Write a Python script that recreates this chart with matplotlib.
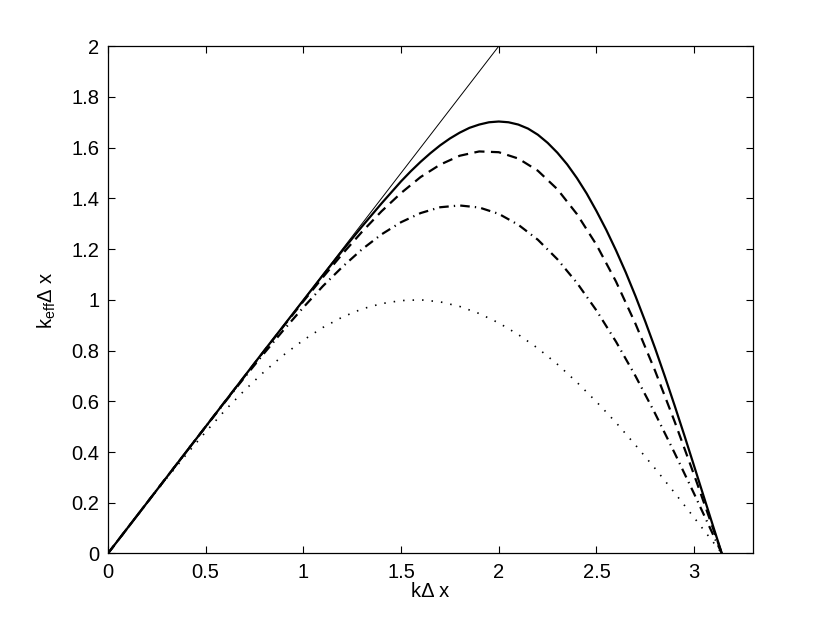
#!/usr/bin/python3
# -*- coding: utf-8 -*-

'''
Modified wavenumber of finite difference schemes
'''

import matplotlib
matplotlib.use('Agg')
import matplotlib.pyplot as plt
from matplotlib.ticker import FormatStrFormatter

# k*dx samples (last point is pi)
kdx = [0.0, 0.1, 0.2, 0.3, 0.4, 0.5, 0.6, 0.7, 0.8, 0.9, 1.0,
       1.1, 1.2, 1.3, 1.4, 1.5, 1.6, 1.7, 1.8, 1.9, 2.0,
       2.1, 2.2, 2.3, 2.4, 2.5, 2.6, 2.7, 2.8, 2.9, 3.0,
       3.1, 3.1416]

# finer samples for the solid curve
kdx_solid = [0.0, 0.1, 0.2, 0.3, 0.4, 0.5, 0.6, 0.7, 0.8, 0.9, 1.0,
             1.1, 1.2, 1.3, 1.4, 1.5, 1.55, 1.6, 1.65, 1.7, 1.75,
             1.8, 1.85, 1.9, 1.95, 2.0, 2.05, 2.1, 2.15, 2.2, 2.25,
             2.3, 2.35, 2.4, 2.45, 2.5, 2.55, 2.6, 2.65, 2.7, 2.75,
             2.8, 2.85, 2.9, 2.95, 3.0, 3.05, 3.1, 3.1416]

# exact relation k_eff = k
exact_x = [0.0, 2.0]
exact_y = [0.0, 2.0]

# solid curve
keff_solid = [0.000, 0.100, 0.200, 0.300, 0.400, 0.500, 0.600, 0.700, 0.800,
              0.899, 0.998, 1.097, 1.194, 1.289, 1.380, 1.467, 1.507, 1.544,
              1.578, 1.609, 1.636, 1.659, 1.678, 1.691, 1.700, 1.703, 1.700,
              1.691, 1.675, 1.651, 1.619, 1.580, 1.534, 1.480, 1.419, 1.350,
              1.276, 1.195, 1.108, 1.014, 0.914, 0.809, 0.698, 0.583, 0.465,
              0.344, 0.222, 0.100, 0.000]

# dashed curve
keff_dashed = [0.000, 0.100, 0.200, 0.300, 0.400, 0.500, 0.600, 0.699, 0.799,
               0.897, 0.994, 1.089, 1.181, 1.268, 1.349, 1.421, 1.484, 1.533,
               1.568, 1.585, 1.582, 1.557, 1.509, 1.436, 1.338, 1.217, 1.072,
               0.905, 0.720, 0.520, 0.309, 0.091, 0.000]

# dash-dot curve
keff_dashdot = [0.000, 0.100, 0.200, 0.300, 0.400, 0.499, 0.598, 0.695, 0.790,
                0.882, 0.970, 1.054, 1.130, 1.199, 1.258, 1.306, 1.342, 1.365,
                1.372, 1.364, 1.339, 1.296, 1.237, 1.160, 1.067, 0.958, 0.835,
                0.699, 0.552, 0.396, 0.235, 0.069, 0.000]

# dotted curve
keff_dotted = [0.000, 0.100, 0.199, 0.296, 0.389, 0.479, 0.565, 0.644, 0.717,
               0.783, 0.841, 0.891, 0.932, 0.964, 0.985, 0.997, 1.000, 0.992,
               0.974, 0.946, 0.909, 0.863, 0.809, 0.746, 0.675, 0.598, 0.516,
               0.427, 0.335, 0.239, 0.141, 0.042, 0.000]

x_ticks = [0, 0.5, 1, 1.5, 2, 2.5, 3]
y_ticks = [0, 0.2, 0.4, 0.6, 0.8, 1, 1.2, 1.4, 1.6, 1.8, 2]


def main():
    '''
    Main function
    '''
    plt.rcParams['font.family'] = ['Liberation Sans', 'DejaVu Sans']
    plt.rcParams['mathtext.fontset'] = 'custom'
    plt.rcParams['mathtext.rm'] = 'Liberation Sans'
    plt.rcParams['mathtext.it'] = 'Liberation Sans'

    fig = plt.figure(figsize=(8.3, 6.24), dpi=100, facecolor='white')
    ax = fig.add_axes([0.130, 0.113, 0.777, 0.813])

    # Curves
    ax.plot(exact_x, exact_y, color='k', lw=0.7)
    ax.plot(kdx_solid, keff_solid, color='k', lw=1.6)
    ax.plot(kdx, keff_dashed, color='k', lw=1.6, dashes=(4.6, 2.9))
    ax.plot(kdx, keff_dashdot, color='k', lw=1.6, dashes=(4.3, 2.3, 0.6, 2.3))
    ax.plot(kdx, keff_dotted, color='k', lw=1.2, dashes=(0.9, 4.8))

    # Axes like matlab
    ax.set_xlim(0, 3.3)
    ax.set_ylim(0, 2)
    ax.set_xticks(x_ticks)
    ax.set_yticks(y_ticks)
    ax.xaxis.set_major_formatter(FormatStrFormatter('%g'))
    ax.yaxis.set_major_formatter(FormatStrFormatter('%g'))
    ax.tick_params(direction='in', top=True, right=True, length=5,
                   width=0.8, labelsize=14.5)
    ax.tick_params(axis='x', pad=7)
    ax.tick_params(axis='y', pad=6)
    for spine in ax.spines.values():
        spine.set_linewidth(0.9)

    ax.set_xlabel('k\u0394 x', fontsize=14.5, labelpad=0)
    ax.set_ylabel(r'k$_{\mathrm{eff}}$' + '\u0394 x', fontsize=14.5, labelpad=10)

    fig.savefig('out.png', dpi=100)


if __name__ == '__main__':
    main()
